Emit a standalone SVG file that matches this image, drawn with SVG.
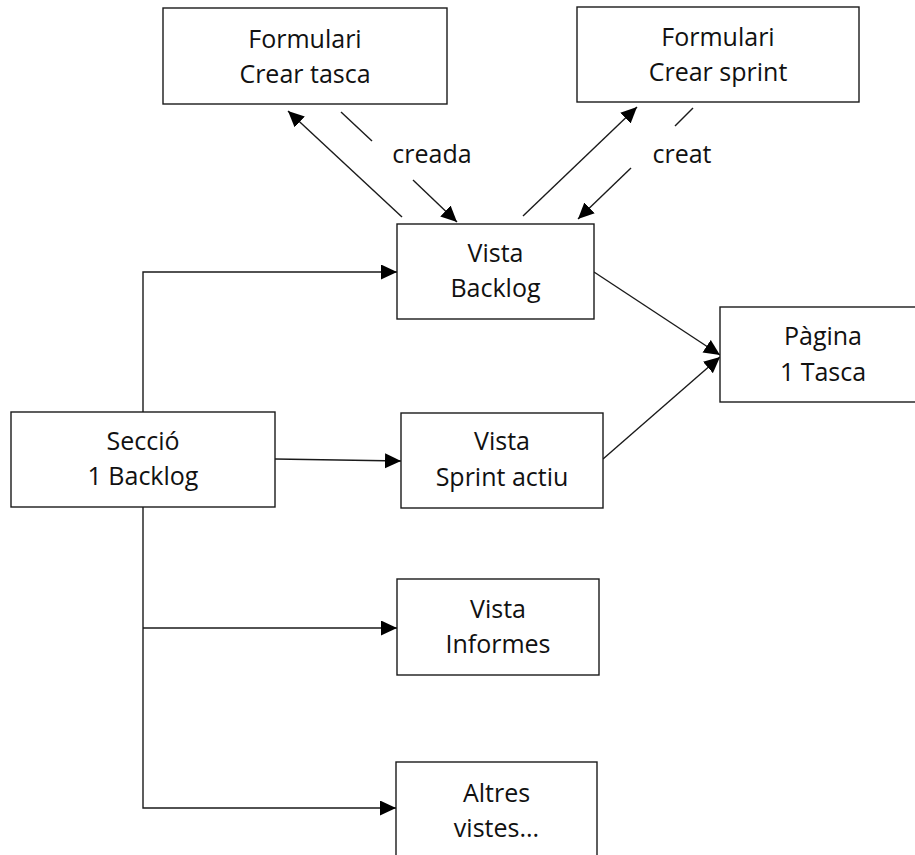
<svg xmlns="http://www.w3.org/2000/svg" width="915" height="855" viewBox="0 0 915 855">
<style>
.box{fill:#fff;stroke:#1a1a1a;stroke-width:1.4}
.t{font-family:"Open Sans","Liberation Sans",sans-serif;font-size:25px;fill:#111;text-anchor:middle}
.c{fill:none;stroke:#1a1a1a;stroke-width:1.4}
</style>
<defs>
<marker id="ah" markerUnits="userSpaceOnUse" markerWidth="18" markerHeight="16" refX="16" refY="7.5" orient="auto">
<path d="M0,0 L16,7.5 L0,15 z" fill="#000"/>
</marker>
</defs>
<rect width="915" height="855" fill="#fff"/>
<g id="connectors">
<polyline class="c" points="143,412 143,272 397,272" marker-end="url(#ah)"/>
<polyline class="c" points="143,507 143,808 396,808" marker-end="url(#ah)"/>
<line class="c" x1="143" y1="628" x2="397" y2="628" marker-end="url(#ah)"/>
<line class="c" x1="275" y1="459" x2="401" y2="461" marker-end="url(#ah)"/>
<line class="c" x1="402" y1="217" x2="288" y2="111" marker-end="url(#ah)"/>
<line class="c" x1="341" y1="112" x2="372" y2="141"/>
<line class="c" x1="413" y1="180" x2="457" y2="222" marker-end="url(#ah)"/>
<line class="c" x1="523" y1="216" x2="637" y2="107" marker-end="url(#ah)"/>
<line class="c" x1="693" y1="108" x2="675" y2="126"/>
<line class="c" x1="631" y1="168" x2="578" y2="219" marker-end="url(#ah)"/>
<line class="c" x1="594" y1="272" x2="720" y2="355" marker-end="url(#ah)"/>
<line class="c" x1="603" y1="459" x2="720" y2="357" marker-end="url(#ah)"/>
<text class="t" x="432" y="163">creada</text>
<text class="t" x="682" y="163">creat</text>
</g>
<g id="formulari-tasca">
<rect class="box" x="163" y="8" width="284" height="96"/>
<text class="t" x="305" y="48">Formulari</text>
<text class="t" x="305" y="83">Crear tasca</text>
</g>
<g id="formulari-sprint">
<rect class="box" x="577" y="7" width="282" height="95"/>
<text class="t" x="718" y="46">Formulari</text>
<text class="t" x="718" y="81">Crear sprint</text>
</g>
<g id="vista-backlog">
<rect class="box" x="397" y="224" width="197" height="95"/>
<text class="t" x="495.5" y="262">Vista</text>
<text class="t" x="495.5" y="297">Backlog</text>
</g>
<g id="pagina-tasca">
<rect class="box" x="720" y="307" width="210" height="95"/>
<text class="t" x="823" y="345">Pàgina</text>
<text class="t" x="823" y="381">1 Tasca</text>
</g>
<g id="seccio-backlog">
<rect class="box" x="11" y="412" width="264" height="95"/>
<text class="t" x="143" y="450">Secció</text>
<text class="t" x="143" y="485">1 Backlog</text>
</g>
<g id="vista-sprint">
<rect class="box" x="401" y="413" width="202" height="95"/>
<text class="t" x="502" y="450">Vista</text>
<text class="t" x="502" y="486">Sprint actiu</text>
</g>
<g id="vista-informes">
<rect class="box" x="397" y="579" width="202" height="96"/>
<text class="t" x="498" y="618">Vista</text>
<text class="t" x="498" y="653">Informes</text>
</g>
<g id="altres-vistes">
<rect class="box" x="396" y="762" width="201" height="100"/>
<text class="t" x="496.5" y="802">Altres</text>
<text class="t" x="496.5" y="837">vistes...</text>
</g>
</svg>
